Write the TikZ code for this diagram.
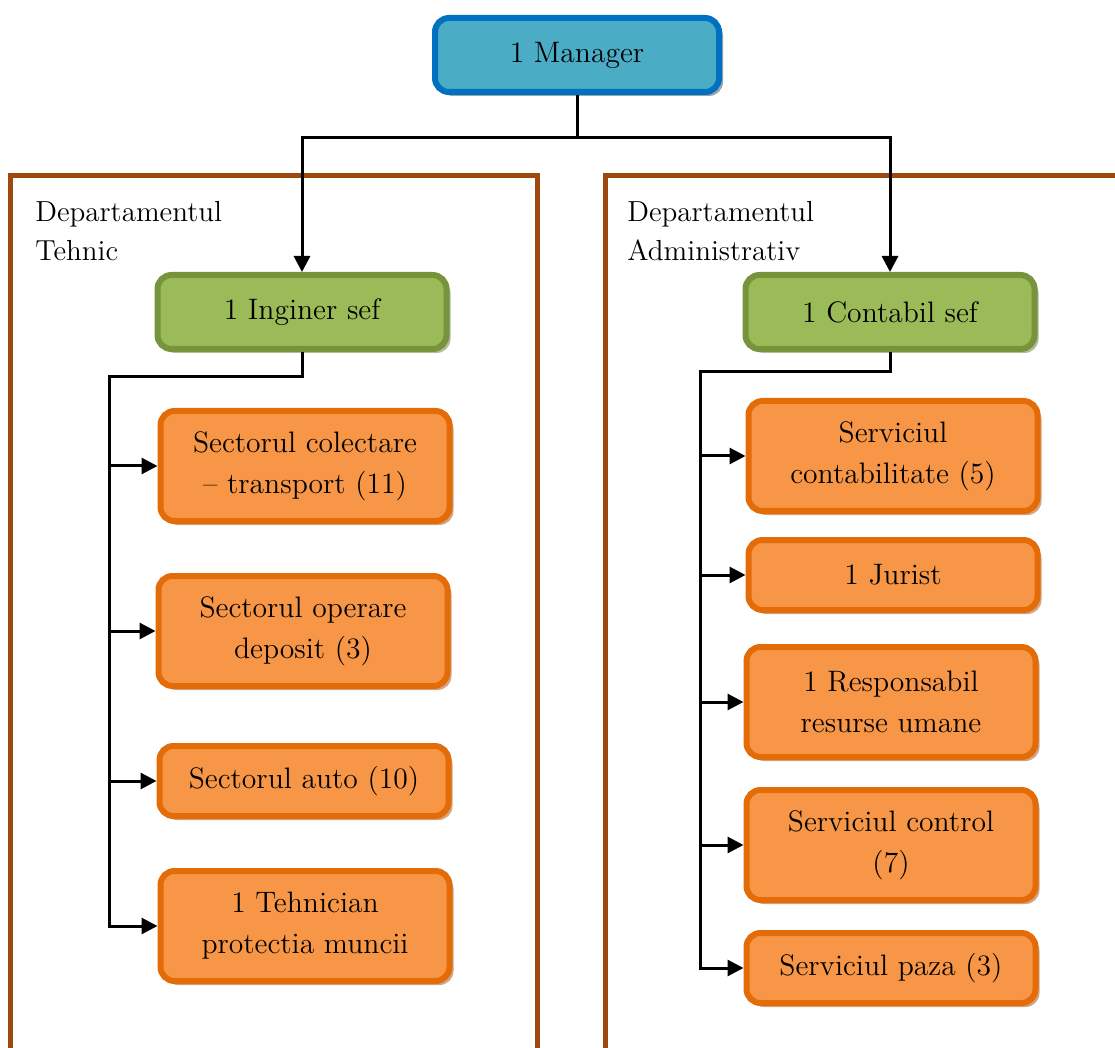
\documentclass[tikz,border=0pt]{standalone}
\usepackage{fontspec}
\usepackage{tikz}
\usetikzlibrary{arrows.meta,shadows,positioning}
\definecolor{mgrfill}{HTML}{4BACC6}
\definecolor{mgrline}{HTML}{0070C0}
\definecolor{mgrshade}{HTML}{9AA6AE}
\definecolor{sefill}{HTML}{9BBB59}
\definecolor{seline}{HTML}{77933C}
\definecolor{seshade}{HTML}{B0BC9C}
\definecolor{secfill}{HTML}{F79646}
\definecolor{secline}{HTML}{E36C09}
\definecolor{secshade}{HTML}{D2A684}
\definecolor{deptline}{HTML}{9E480E}

\begin{document}
\begin{tikzpicture}[x=0.5pt,y=-0.5pt,
                    box/.style={rounded corners=7pt,line width=3pt,align=center,
                      inner sep=2pt,minimum width=144.5pt,
                      font=\fontsize{14.8}{20.5}\selectfont},
                    mgrbox/.style={box,draw=mgrline,fill=mgrfill,minimum width=142pt,
                      minimum height=37pt,
                      drop shadow={shadow xshift=2pt,shadow yshift=-2pt,fill=mgrshade,opacity=1}},
                    sefbox/.style={box,draw=seline,fill=sefill,minimum height=37pt,
                      drop shadow={shadow xshift=2pt,shadow yshift=-2pt,fill=seshade,opacity=1}},
                    secbox/.style={box,draw=secline,fill=secfill,minimum height=55pt,
                      drop shadow={shadow xshift=2pt,shadow yshift=-2pt,fill=secshade,opacity=1}},
                    lowbox/.style={secbox,minimum height=35pt},
                    dept/.style={align=left,anchor=north west,inner sep=0pt,
                      font=\fontsize{14.5}{19.5}\selectfont},
                    frame/.style={draw=deptline,line width=2.5pt,line join=miter},
                    conn/.style={line width=1.5pt},
                    arr/.style={conn,-{Triangle[length=8pt,width=8pt]}}]
  \useasboundingbox (0,0) rectangle (1115,1048);

  % departments
  \draw[frame] (10,1048) |- (537,176) -- (537,1048);
  \draw[frame] (605,1048) |- (1115,176);
  \node[dept] (tehnic) at (35,201) {Departamentul\\Tehnic};
  \node[dept] (admin) at (627,201) {Departamentul\\Administrativ};

  \node[mgrbox] (mgr) at (577,55) {1 Manager};
  \node[sefbox] (ing) at (302,312) {1 Inginer sef};
  \node[sefbox] (cont) at (890,312) {1 Contabil sef};

  \node[secbox] (colect) at (305,466) {Sectorul colectare\\– transport (11)};
  \node[secbox] (depo) at (303,631) {Sectorul operare\\deposit (3)};
  \node[lowbox] (auto) at (304,781) {Sectorul auto (10)};
  \node[secbox] (tehn) at (305,926) {1 Tehnician\\protectia muncii};

  \node[secbox] (contab) at (893,456) {Serviciul\\contabilitate (5)};
  \node[lowbox] (jurist) at (893,575) {1 Jurist};
  \node[secbox] (resurse) at (891,702) {1 Responsabil\\resurse umane};
  \node[secbox] (control) at (891,845) {Serviciul control\\(7)};
  \node[lowbox] (paza) at (891,968) {Serviciul paza (3)};

  \coordinate (mj) at (577,138);
  \coordinate (lb) at (109,377);
  \coordinate (rb) at (700,372);

  \draw[conn] (mgr.south) -- (mj);
  \draw[arr] (mj) -| (ing.north);
  \draw[arr] (mj) -| (cont.north);

  \draw[arr] (ing.south) |- (lb) |- (tehn.west);
  \foreach \n in {colect,depo,auto}
    \draw[arr] (lb |- \n.west) -- (\n.west);

  \draw[arr] (cont.south) |- (rb) |- (paza.west);
  \foreach \n in {contab,jurist,resurse,control}
    \draw[arr] (rb |- \n.west) -- (\n.west);
\end{tikzpicture}
\end{document}
